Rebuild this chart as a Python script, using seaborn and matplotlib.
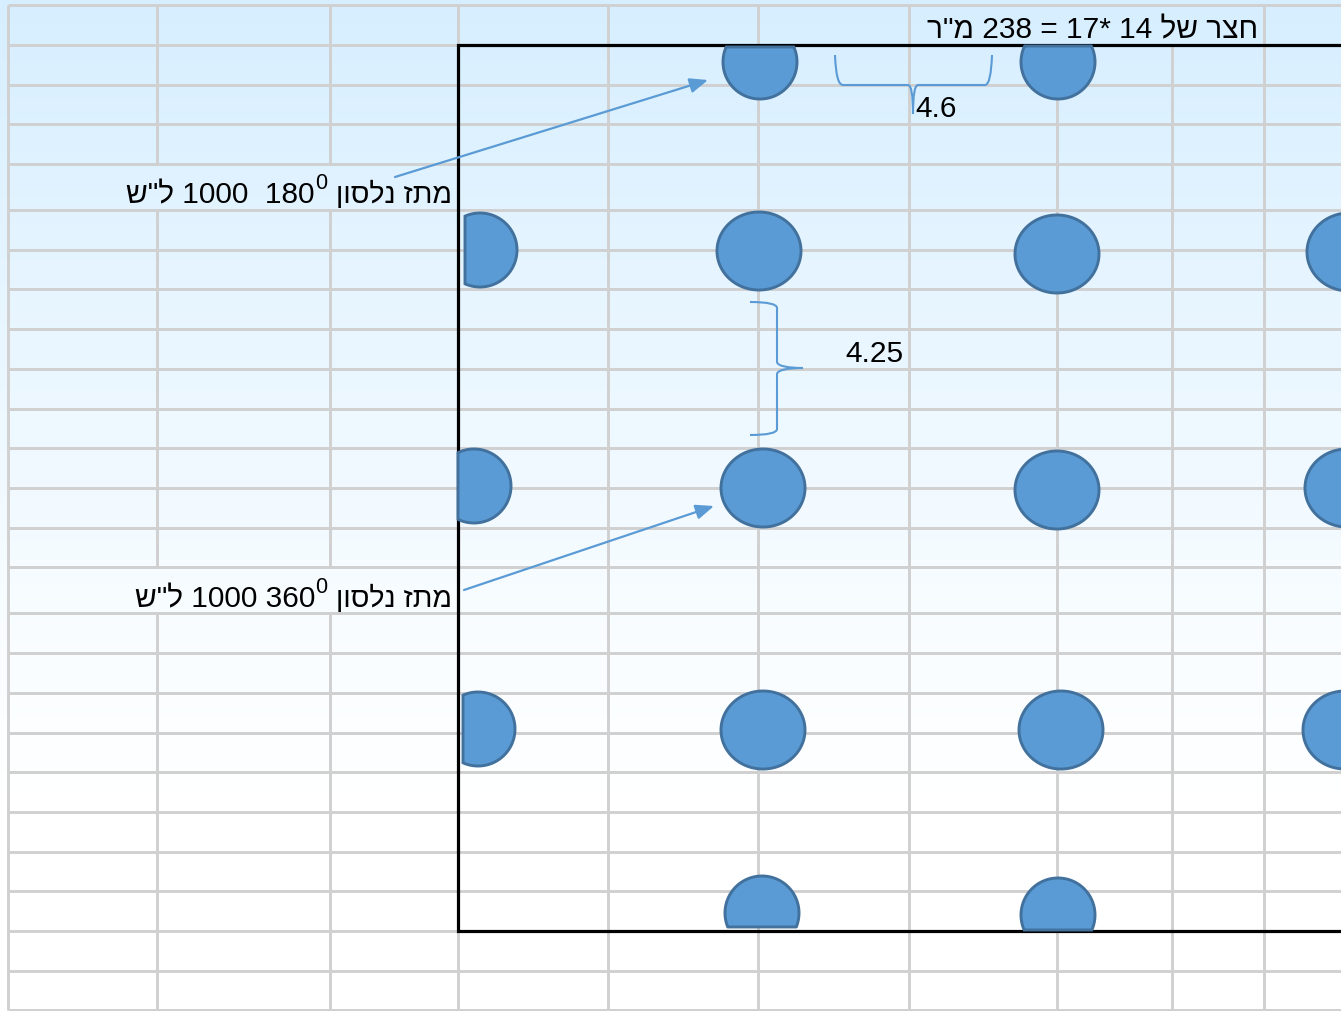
"""
Redraw of the orchard layout sketch: sprinklers on a 14 * 17 m yard over a sheet grid.
Coordinates are image pixels read from the picture, y grows downwards.
"""

import matplotlib
matplotlib.use("Agg")  # non-interactive backend for saving files
import matplotlib.pyplot as plt
from matplotlib.colors import LinearSegmentedColormap
from matplotlib.path import Path
from matplotlib.patches import PathPatch
import numpy as np
import seaborn as sns

# ------------------------------------------------------------------ #
# Data                                                                 #
# ------------------------------------------------------------------ #
WIDTH, HEIGHT = 1341, 1012

ROW_Y = [5, 45, 85, 124, 164, 210, 250, 289, 329, 369, 409, 448, 488, 528,
         567, 613, 653, 693, 733, 772, 812, 852, 891, 931, 971, 1010]

COL_X = [8, 157, 330, 458, 608, 758, 909, 1057, 1172, 1264]
COL_SPANS = [
    [(5, 1010)],
    [(5, 164), (210, 567), (613, 1010)],
    [(5, 164), (210, 567), (613, 1010)],
    [(5, 45), (931, 1010)],
    [(5, 1010)],
    [(5, 1010)],
    [(5, 1010)],
    [(45, 1010)],
    [(45, 1010)],
    [(5, 1010)],
]

# sprinkler wetted areas: centre, radii, cut limits (None = not cut)
AREA_X = [760, 1058, 480, 759, 1057, 1349, 474, 763, 1057, 1347, 478, 763, 1061, 1345, 762, 1058]
AREA_Y = [62, 62, 250, 251, 254, 252, 486, 488, 490, 488, 729, 730, 730, 730, 913, 915]
AREA_RX = [37, 37, 37, 42, 42, 42, 37, 42, 42, 42, 37, 42, 42, 42, 37, 37]
AREA_RY = [37, 37, 37, 39, 39, 39, 37, 39, 39, 39, 37, 39, 39, 39, 37, 37]
CUT_LEFT = [None, None, 465, None, None, None, 458, None, None, None, 463, None, None, None, None, None]
CUT_TOP = [47, 46] + [None] * 14
CUT_BOTTOM = [None] * 14 + [927, 930]

ARROW_TAILS = [(395, 177), (464, 590)]
ARROW_HEADS = [(708, 80), (714, 506)]

BRACE_H = [(835, 55), (836, 85), (843, 85), (908, 85), (913, 85), (913, 114),
           (913, 85), (918, 85), (985, 85), (991, 85), (992, 55)]
BRACE_V = [(750, 302), (777, 302), (777, 308), (777, 362), (778, 368), (803, 368),
           (778, 368), (777, 374), (777, 429), (777, 435), (750, 435)]

# matplotlib has no bidi, Hebrew runs are reversed into visual order
TITLE_PARTS = ['מ"ר', " 238 = 17* 14 ", "חצר של"]
NOZZLE = "מתז נלסון"
FLOW = 'ל"ש'
ANGLE_180 = "  180"
ANGLE_360 = " 360"
DISCHARGE = " 1000"
SPACING_X = "4.6"
SPACING_Y = "4.25"

LINE_GREY = "#d0d0d0"
BLUE = "#5b9bd5"
BLUE_EDGE = "#41719c"
FONT = "Liberation Sans"
FONT_SIZE = 21.5


def heb(text):
    return text[::-1]


# ------------------------------------------------------------------ #
# Plot                                                                 #
# ------------------------------------------------------------------ #
sns.set_theme(style="white", font=FONT)

fig = plt.figure(figsize=(WIDTH / 100, HEIGHT / 100), dpi=100)

# background wash, light blue fading to white
bg = fig.add_axes([0, 0, 1, 1])
wash = LinearSegmentedColormap.from_list(
    "wash", [(0.0, "#d6eeff"), (0.3, "#e7f5ff"), (0.6, "#f7fcff"), (0.8, "#ffffff"), (1.0, "#ffffff")]
)
sns.heatmap(np.linspace(0, 1, 256).reshape(-1, 1), ax=bg, cmap=wash, vmin=0, vmax=1,
            cbar=False, xticklabels=False, yticklabels=False)
bg.set_axis_off()

ax = fig.add_axes([0, 0, 1, 1])
ax.set_xlim(0, WIDTH)
ax.set_ylim(HEIGHT - 1, -1)
ax.patch.set_alpha(0)
ax.set_axis_off()

# sheet grid
ax.hlines(ROW_Y, COL_X[0], WIDTH, color=LINE_GREY, linewidth=2.1, zorder=1)
for x, spans in zip(COL_X, COL_SPANS):
    for y0, y1 in spans:
        ax.vlines(x, y0, y1, color=LINE_GREY, linewidth=2.1, zorder=1)

# yard outline, open on the right
ax.plot([WIDTH, 458, 458, WIDTH], [45, 45, 931, 931], color="black", linewidth=2.3,
        solid_joinstyle="miter", zorder=2)

# wetted areas
theta = np.linspace(0, 2 * np.pi, 361)
for i in range(len(AREA_X)):
    xs = AREA_X[i] + AREA_RX[i] * np.cos(theta)
    ys = AREA_Y[i] + AREA_RY[i] * np.sin(theta)
    xs = np.clip(xs, CUT_LEFT[i], None) if CUT_LEFT[i] is not None else xs
    if CUT_TOP[i] is not None:
        ys = np.clip(ys, CUT_TOP[i], None)
    if CUT_BOTTOM[i] is not None:
        ys = np.clip(ys, None, CUT_BOTTOM[i])
    ax.fill(xs, ys, facecolor=BLUE, edgecolor=BLUE_EDGE, linewidth=2.1, zorder=3)

# spacing braces
for pts in (BRACE_H, BRACE_V):
    codes = [Path.MOVETO, Path.CURVE3, Path.CURVE3, Path.LINETO, Path.CURVE3, Path.CURVE3,
             Path.CURVE3, Path.CURVE3, Path.LINETO, Path.CURVE3, Path.CURVE3]
    ax.add_patch(PathPatch(Path(pts, codes), facecolor="none", edgecolor=BLUE, linewidth=1.5, zorder=4))

# callout arrows
for tail, head in zip(ARROW_TAILS, ARROW_HEADS):
    ax.annotate("", xy=head, xytext=tail, zorder=4,
                arrowprops=dict(arrowstyle="-|>,head_length=1.1,head_width=0.45", color=BLUE,
                                linewidth=1.6, shrinkA=0, shrinkB=0, mutation_scale=10))

# text
text_kw = dict(fontsize=FONT_SIZE, color="black", family=FONT, va="baseline", zorder=5)
title = heb(TITLE_PARTS[0]) + TITLE_PARTS[1] + heb(TITLE_PARTS[2])
ax.text(1258, 37, title, ha="right", **text_kw)

for y, angle, right_edge in [(202, ANGLE_180, 315), (606, ANGLE_360, 315)]:
    ax.text(452, y, heb(NOZZLE), ha="right", **{**text_kw, "fontsize": 20.5})
    ax.text(right_edge, y, heb(FLOW) + DISCHARGE + angle, ha="right", **text_kw)
    ax.text(315, y - 14, "0", ha="left", **{**text_kw, "fontsize": 15.5})

ax.text(915, 116, SPACING_X, ha="left", **text_kw)
ax.text(845, 361, SPACING_Y, ha="left", **text_kw)

fig.savefig("out.png", dpi=100)
plt.close(fig)
print("Saved out.png")
